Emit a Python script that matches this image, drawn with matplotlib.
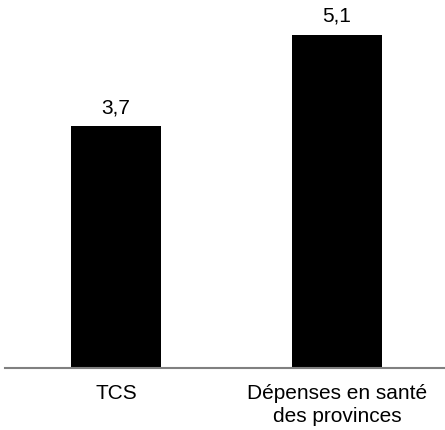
import matplotlib
matplotlib.use("Agg")
import matplotlib.pyplot as plt

categories = ["TCS", "Dépenses en santé\ndes provinces"]
values = [3.7, 5.1]
value_labels = ["3,7", "5,1"]

plt.rcParams["font.family"] = ["Liberation Sans", "DejaVu Sans"]

fig = plt.figure(figsize=(4.45, 4.31), dpi=100)
ax = fig.add_axes([0.0112, 0.1439, 0.9888, 0.856])

x = range(len(categories))
bars = ax.bar(x, values, width=0.407, color="black")

for bar, lab in zip(bars, value_labels):
    ax.annotate(lab, (bar.get_x() + bar.get_width() / 2, bar.get_height()),
                xytext=(0, 7), textcoords="offset points",
                ha="center", va="bottom", fontsize=15, color="black")

ax.set_xlim(-0.502, 1.489)
ax.set_ylim(0, 5.646)
ax.set_xticks(list(x))
ax.set_xticklabels(categories, fontsize=15, linespacing=1.32)
ax.tick_params(axis="x", length=0, pad=10.5)
ax.set_yticks([])

for side in ["top", "right", "left"]:
    ax.spines[side].set_visible(False)
ax.spines["bottom"].set_color("#808080")
ax.spines["bottom"].set_linewidth(1.5)

fig.savefig("out.png", dpi=100)
